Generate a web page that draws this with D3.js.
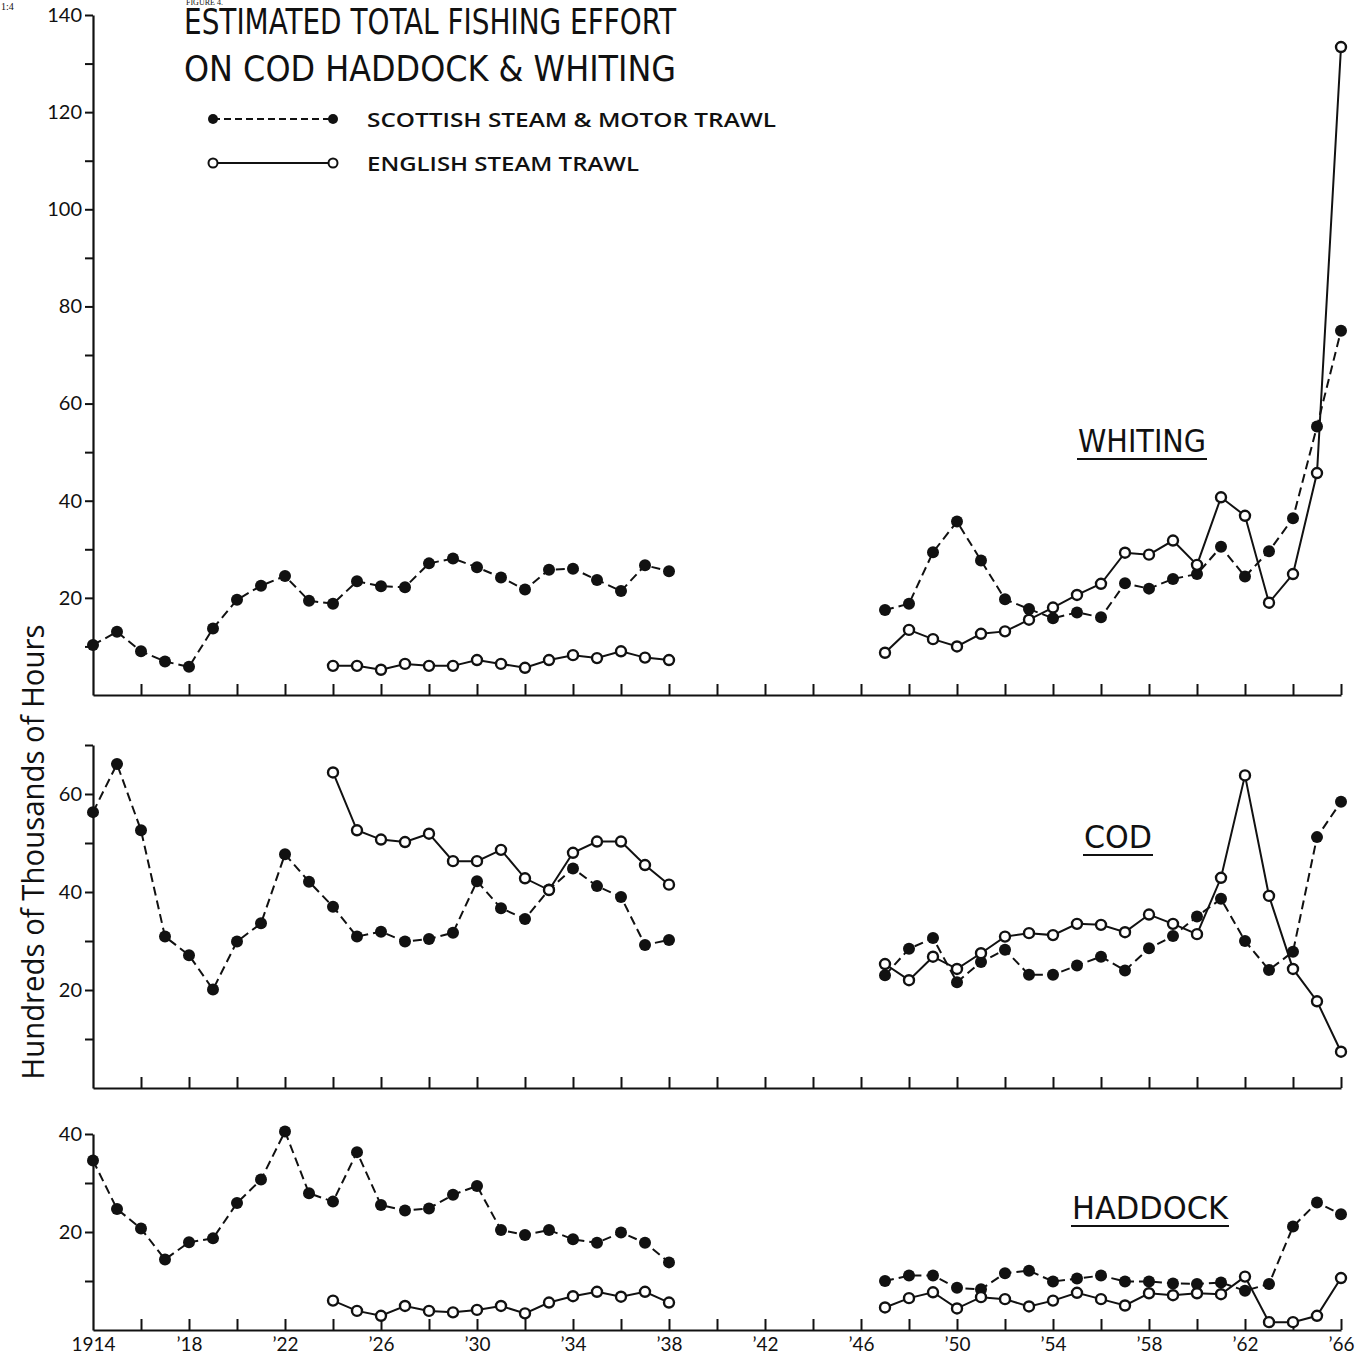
<!DOCTYPE html>
<html>
<head>
<meta charset="utf-8">
<script src="https://cdn.jsdelivr.net/npm/d3@7"></script>
<style>
  body { margin: 0; background: #fff; }
  svg { display: block; font-family: "Liberation Sans Narrow", "DejaVu Sans Condensed", "Liberation Sans", sans-serif; }
</style>
</head>
<body>
<div class="chart"></div>
<script>
// --- Data ---
const yearsPre = [1914, 1915, 1916, 1917, 1918, 1919, 1920, 1921, 1922, 1923, 1924, 1925, 1926,
                  1927, 1928, 1929, 1930, 1931, 1932, 1933, 1934, 1935, 1936, 1937, 1938];
const yearsPreEng = [1924, 1925, 1926, 1927, 1928, 1929, 1930, 1931, 1932, 1933, 1934, 1935, 1936, 1937, 1938];
const yearsPost = [1947, 1948, 1949, 1950, 1951, 1952, 1953, 1954, 1955, 1956,
                   1957, 1958, 1959, 1960, 1961, 1962, 1963, 1964, 1965, 1966];

const whitingScotPre = [10.3, 13.0, 9.0, 6.9, 5.8, 13.7, 19.6, 22.5, 24.5, 19.4, 18.8, 23.4, 22.4,
                        22.2, 27.1, 28.1, 26.3, 24.2, 21.7, 25.8, 26.0, 23.7, 21.4, 26.7, 25.5];
const whitingEngPre = [6.0, 6.0, 5.2, 6.4, 6.0, 6.0, 7.2, 6.4, 5.6, 7.2, 8.2, 7.6, 9.0, 7.7, 7.2];
const whitingScotPost = [17.5, 18.8, 29.4, 35.7, 27.7, 19.7, 17.7, 15.8, 17.0, 16.0,
                         23.0, 21.9, 23.9, 24.9, 30.5, 24.4, 29.6, 36.4, 55.3, 75.0];
const whitingEngPost = [8.7, 13.4, 11.5, 10.0, 12.6, 13.1, 15.5, 18.0, 20.6, 22.9,
                        29.3, 28.9, 31.8, 26.8, 40.7, 36.9, 19.0, 24.9, 45.7, 133.4];

const codScotPre = [56.3, 66.1, 52.6, 30.9, 27.1, 20.1, 29.9, 33.6, 47.7, 42.1, 37.0, 30.9, 31.9,
                    29.9, 30.4, 31.7, 42.2, 36.7, 34.5, 40.5, 44.8, 41.2, 39.0, 29.2, 30.2];
const codEngPre = [64.4, 52.6, 50.7, 50.2, 51.9, 46.3, 46.3, 48.6, 42.8, 40.4, 48.0, 50.3, 50.3, 45.5, 41.5];
const codScotPost = [23.0, 28.4, 30.6, 21.6, 25.7, 28.2, 23.1, 23.1, 25.0, 26.8,
                     24.0, 28.5, 31.0, 35.0, 38.6, 30.0, 24.1, 27.8, 51.2, 58.4];
const codEngPost = [25.3, 22.0, 26.8, 24.3, 27.5, 30.9, 31.6, 31.2, 33.5, 33.3,
                    31.8, 35.4, 33.5, 31.4, 42.9, 63.8, 39.2, 24.3, 17.7, 7.4];

const haddockScotPre = [34.6, 24.7, 20.7, 14.4, 17.9, 18.7, 25.9, 30.7, 40.5, 27.9, 26.2, 36.3, 25.5,
                        24.4, 24.8, 27.6, 29.4, 20.4, 19.4, 20.4, 18.5, 17.8, 19.9, 17.8, 13.8];
const haddockEngPre = [6.0, 3.9, 2.9, 4.9, 3.9, 3.6, 4.1, 4.9, 3.4, 5.6, 6.9, 7.8, 6.8, 7.8, 5.6];
const haddockScotPost = [10.0, 11.1, 11.1, 8.6, 8.3, 11.6, 12.1, 9.9, 10.5, 11.1,
                         9.9, 9.9, 9.5, 9.4, 9.7, 8.0, 9.4, 21.1, 26.0, 23.6];
const haddockEngPost = [4.6, 6.5, 7.7, 4.4, 6.7, 6.3, 4.8, 6.0, 7.6, 6.3,
                        5.0, 7.5, 7.1, 7.5, 7.3, 10.9, 1.6, 1.6, 2.9, 10.6];

const yearTickValues = [1914, 1918, 1922, 1926, 1930, 1934, 1938, 1942, 1946, 1950, 1954, 1958, 1962, 1966];
const yearTickLabels = ["1914", "\u201918", "\u201922", "\u201926", "\u201930", "\u201934", "\u201938",
                        "\u201942", "\u201946", "\u201950", "\u201954", "\u201958", "\u201962", "\u201966"];

const titleLines = ["ESTIMATED  TOTAL  FISHING  EFFORT", "ON  COD   HADDOCK  &  WHITING"];
const legendLabels = ["SCOTTISH  STEAM  &  MOTOR  TRAWL", "ENGLISH  STEAM  TRAWL"];

const createEffortChart = () => {
    const viewW = 1358;
    const viewH = 1364;
    const ink = "#111";
    const tickFont = "'Lato', 'Open Sans', 'DejaVu Sans', sans-serif";

    const svg = d3.select(".chart")
        .append("svg")
        .attr("width", viewW)
        .attr("height", viewH)
        .attr("viewBox", `0 0 ${viewW} ${viewH}`);

    // shared year scale
    const x = d3.scaleLinear()
        .domain([1914, 1966])
        .range([93, 1341]);

    const zip = (years, vals) => years.map((yr, i) => ({ year: yr, value: vals[i] }));

    const panels = [
        {
            name: "WHITING", max: 140, top: 15, bottom: 695, labelX: 1142, labelY: 452, labelW: 128,
            series: [
                { data: zip(yearsPre, whitingScotPre), scot: true },
                { data: zip(yearsPost, whitingScotPost), scot: true },
                { data: zip(yearsPreEng, whitingEngPre), scot: false },
                { data: zip(yearsPost, whitingEngPost), scot: false }
            ]
        },
        {
            name: "COD", max: 70, top: 745, bottom: 1088, labelX: 1118, labelY: 848, labelW: 68,
            series: [
                { data: zip(yearsPre, codScotPre), scot: true },
                { data: zip(yearsPost, codScotPost), scot: true },
                { data: zip(yearsPreEng, codEngPre), scot: false },
                { data: zip(yearsPost, codEngPost), scot: false }
            ]
        },
        {
            name: "HADDOCK", max: 40, top: 1134, bottom: 1330, labelX: 1150, labelY: 1219, labelW: 156,
            series: [
                { data: zip(yearsPre, haddockScotPre), scot: true },
                { data: zip(yearsPost, haddockScotPost), scot: true },
                { data: zip(yearsPreEng, haddockEngPre), scot: false },
                { data: zip(yearsPost, haddockEngPost), scot: false }
            ]
        }
    ];

    panels.forEach((p, idx) => {
        const y = d3.scaleLinear()
            .domain([0, p.max])
            .range([p.bottom, p.top]);

        const g = svg.append("g");

        // y axis: ticks every 10, labels every 20
        const yTicks = d3.range(10, p.max + 1, 10);
        const yAxis = d3.axisLeft(y)
            .tickValues(yTicks)
            .tickSize(8)
            .tickSizeOuter(0)
            .tickPadding(3)
            .tickFormat(d => d % 20 === 0 ? d : "");

        g.append("g")
            .attr("transform", `translate(${x(1914)},0)`)
            .call(yAxis)
            .call(a => a.select(".domain").attr("stroke", ink).attr("stroke-width", 2.2))
            .call(a => a.selectAll(".tick line").attr("stroke", ink).attr("stroke-width", 2))
            .call(a => a.selectAll(".tick text")
                .attr("fill", ink)
                .style("font-family", tickFont)
                .style("font-size", "20px"));

        // x axis: ticks every 2 years pointing up
        const xAxis = d3.axisTop(x)
            .tickValues(d3.range(1916, 1967, 2))
            .tickSize(11)
            .tickSizeOuter(0)
            .tickFormat("");

        g.append("g")
            .attr("transform", `translate(0,${p.bottom})`)
            .call(xAxis)
            .call(a => a.select(".domain").attr("stroke", ink).attr("stroke-width", 2.2))
            .call(a => a.selectAll(".tick line").attr("stroke", ink).attr("stroke-width", 2));

        if (idx === panels.length - 1) {
            const xLabels = d3.axisBottom(x)
                .tickValues(yearTickValues)
                .tickSize(0)
                .tickPadding(8)
                .tickFormat((d, i) => yearTickLabels[i]);
            g.append("g")
                .attr("transform", `translate(0,${p.bottom})`)
                .call(xLabels)
                .call(a => a.select(".domain").remove())
                .call(a => a.selectAll(".tick text")
                    .attr("fill", ink)
                    .style("font-family", tickFont)
                    .style("font-size", "19px"));
        }

        // lines
        const line = d3.line()
            .x(d => x(d.year))
            .y(d => y(d.value));

        p.series.forEach(s => {
            g.append("path")
                .datum(s.data)
                .attr("d", line)
                .attr("fill", "none")
                .attr("stroke", ink)
                .attr("stroke-width", 2)
                .attr("stroke-dasharray", s.scot ? "9,5" : null);
        });

        // markers (open circles on top so the overlap shows)
        p.series.slice().sort((a, b) => (b.scot ? 1 : 0) - (a.scot ? 1 : 0)).forEach(s => {
            g.selectAll(null)
                .data(s.data)
                .enter()
                .append("circle")
                .attr("cx", d => x(d.year))
                .attr("cy", d => y(d.value))
                .attr("r", s.scot ? 6 : 5)
                .attr("fill", s.scot ? ink : "#fff")
                .attr("stroke", ink)
                .attr("stroke-width", s.scot ? 0 : 2.4);
        });

        // species label, underlined
        g.append("text")
            .attr("x", p.labelX)
            .attr("y", p.labelY)
            .attr("text-anchor", "middle")
            .attr("textLength", p.labelW)
            .attr("lengthAdjust", "spacingAndGlyphs")
            .attr("fill", ink)
            .style("font-size", "32px")
            .text(p.name);

        g.append("line")
            .attr("x1", p.labelX - p.labelW / 2 - 1)
            .attr("x2", p.labelX + p.labelW / 2 + 1)
            .attr("y1", p.labelY + 7)
            .attr("y2", p.labelY + 7)
            .attr("stroke", ink)
            .attr("stroke-width", 2.2);
    });

    // --- Title ---
    svg.append("text")
        .attr("x", 186)
        .attr("y", 5)
        .attr("fill", ink)
        .style("font-family", "'Liberation Serif', serif")
        .style("font-size", "8px")
        .text("FIGURE 4.");

    svg.append("text")
        .attr("x", 1)
        .attr("y", 10)
        .attr("fill", ink)
        .style("font-family", "'Liberation Serif', serif")
        .style("font-size", "10px")
        .text("1:4");

    titleLines.forEach((t, i) => {
        svg.append("text")
            .attr("x", 184)
            .attr("y", 34 + i * 47)
            .attr("textLength", 492)
            .attr("lengthAdjust", "spacingAndGlyphs")
            .attr("fill", ink)
            .style("font-size", "35px")
            .text(t);
    });

    // --- Legend ---
    const legend = svg.append("g");
    const legendRows = [
        { y: 119, scot: true, textW: 409 },
        { y: 163, scot: false, textW: 272 }
    ];

    legendRows.forEach((r, i) => {
        legend.append("line")
            .attr("x1", 213).attr("x2", 333)
            .attr("y1", r.y).attr("y2", r.y)
            .attr("stroke", ink)
            .attr("stroke-width", 2)
            .attr("stroke-dasharray", r.scot ? "7,4" : null);

        [213, 333].forEach(cx => {
            legend.append("circle")
                .attr("cx", cx)
                .attr("cy", r.y)
                .attr("r", r.scot ? 5 : 4.5)
                .attr("fill", r.scot ? ink : "#fff")
                .attr("stroke", ink)
                .attr("stroke-width", r.scot ? 0 : 2);
        });

        legend.append("text")
            .attr("x", 367)
            .attr("y", r.y + 8)
            .attr("textLength", r.textW)
            .attr("lengthAdjust", "spacingAndGlyphs")
            .attr("fill", ink)
            .style("font-family", "'Open Sans', 'DejaVu Sans', sans-serif")
            .style("font-weight", "600")
            .style("font-size", "19px")
            .text(legendLabels[i]);
    });

    // --- Y axis title ---
    svg.append("text")
        .attr("transform", "translate(44,852) rotate(-90)")
        .attr("text-anchor", "middle")
        .attr("textLength", 455)
        .attr("lengthAdjust", "spacingAndGlyphs")
        .attr("fill", ink)
        .style("font-family", "'Open Sans', 'DejaVu Sans', sans-serif")
        .style("font-size", "31px")
        .text("Hundreds  of  Thousands  of  Hours");
};

createEffortChart();
</script>
</body>
</html>
